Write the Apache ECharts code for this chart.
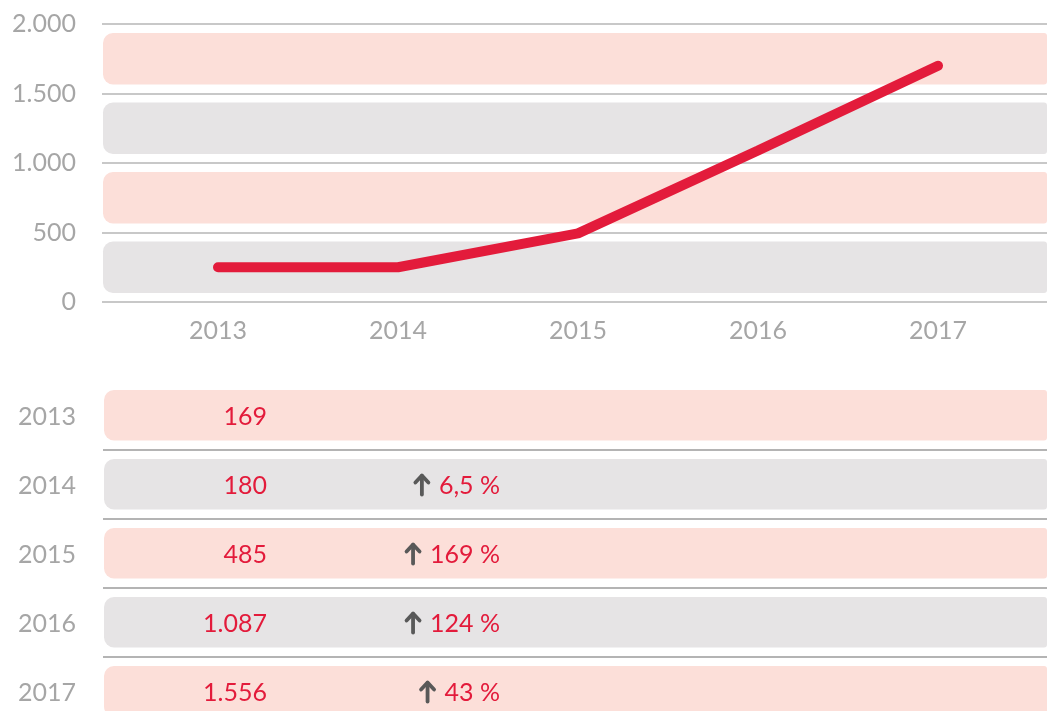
<!DOCTYPE html>
<html>
<head>
<meta charset="utf-8">
<script src="https://cdn.jsdelivr.net/npm/echarts@6/dist/echarts.min.js"></script>
<style>
  html, body { margin: 0; padding: 0; background: #fff; }
  #chart { width: 1047px; height: 711px; }
</style>
</head>
<body>
<div id="chart"></div>
<script>
// data
const years = ["2013", "2014", "2015", "2016", "2017"];
const lineValues = [250, 250, 494, 1090, 1700];
const bandStarts = [0, 500, 1000, 1500];
const tableValues = [169, 180, 485, 1087, 1556];
const growth = ["", "6,5 %", "169 %", "124 %", "43 %"];

const RED = "#E31B3B";
const PINK = "#FCDFD9";
const GREY = "#E6E4E5";
const LABEL = "#A6A6A6";
const FONT = "Lato";
const ROW = 69; // table row pitch

function fmt(n) {
  return String(n).replace(/\B(?=(\d{3})+(?!\d))/g, ".");
}

const measureCtx = document.createElement("canvas").getContext("2d");
function textWidth(str) {
  measureCtx.font = "25px " + FONT;
  return measureCtx.measureText(str).width;
}

// rounded band behind each 500 step, alternating grey / pink
function renderBand(params, api) {
  const cs = params.coordSys;
  const start = api.value(0);
  const yTop = api.coord([0, start + 500])[1] + 9;
  const yBot = api.coord([0, start])[1] - 9;
  return {
    type: "rect",
    shape: { x: cs.x + 1, y: yTop, width: cs.width - 1, height: yBot - yTop, r: [10, 3, 3, 10] },
    style: { fill: params.dataIndex % 2 ? PINK : GREY }
  };
}

// one row of the table below the chart
function renderRow(params, api) {
  const cs = params.coordSys;
  const i = params.dataIndex;
  const cy = api.coord([0, api.value(1)])[1];
  const top = cy - ROW / 2;
  const children = [
    {
      type: "rect",
      shape: { x: cs.x, y: top + 9, width: cs.width, height: ROW - 18.5, r: [10, 3, 3, 10] },
      style: { fill: i % 2 ? GREY : PINK }
    },
    {
      type: "text",
      x: cs.x - 28,
      y: cy + 1,
      style: { text: years[i], align: "right", verticalAlign: "middle", fill: LABEL, font: "25px " + FONT }
    },
    {
      type: "text",
      x: cs.x + 163,
      y: cy + 1,
      style: { text: fmt(tableValues[i]), align: "right", verticalAlign: "middle", fill: RED, font: "25px " + FONT }
    }
  ];
  if (i > 0) {
    children.push({
      type: "line",
      shape: { x1: cs.x - 1, y1: top, x2: cs.x + cs.width, y2: top },
      style: { stroke: "#B4B4B4", lineWidth: 2 }
    });
  }
  if (growth[i]) {
    const right = cs.x + 396;
    const ax = right - textWidth(growth[i]) - 17;
    children.push(
      {
        type: "text",
        x: right,
        y: cy + 1,
        style: { text: growth[i], align: "right", verticalAlign: "middle", fill: RED, font: "25px " + FONT }
      },
      {
        type: "polyline",
        shape: { points: [[ax - 6.5, cy - 2], [ax, cy - 9], [ax + 6.5, cy - 2]] },
        style: { stroke: "#595959", lineWidth: 3.8, lineCap: "round", lineJoin: "round", fill: null }
      },
      {
        type: "line",
        shape: { x1: ax, y1: cy - 8.5, x2: ax, y2: cy + 10 },
        style: { stroke: "#595959", lineWidth: 3.8, lineCap: "round" }
      }
    );
  }
  return { type: "group", children: children };
}

const chart = echarts.init(document.getElementById("chart"));

const option = {
  animation: false,
  grid: [
    { left: 102, right: 0, top: 24, height: 278 },
    { left: 128, right: 19, top: 24, height: 278 },
    { left: 104, right: 0, top: 381, bottom: 0 }
  ],
  xAxis: [
    { gridIndex: 0, type: "value", min: 0, max: 1, show: false },
    {
      gridIndex: 1,
      type: "category",
      data: years,
      axisLine: { show: false },
      axisTick: { show: false },
      axisLabel: { color: LABEL, fontFamily: FONT, fontSize: 25, margin: 16 }
    },
    { gridIndex: 2, type: "value", min: 0, max: 1, show: false }
  ],
  yAxis: [
    {
      gridIndex: 0,
      type: "value",
      min: 0,
      max: 2000,
      interval: 500,
      axisLine: { show: false },
      axisTick: { show: false },
      axisLabel: { color: LABEL, fontFamily: FONT, fontSize: 25, margin: 26, padding: [4, 0, 0, 0], formatter: fmt },
      splitLine: { lineStyle: { color: "#C8C8C8", width: 2 } }
    },
    { gridIndex: 1, type: "value", min: 0, max: 2000, show: false },
    // row index axis: 330px tall, one row every 69px
    { gridIndex: 2, type: "value", inverse: true, min: -0.5, max: -0.5 + 330 / ROW, show: false }
  ],
  series: [
    {
      type: "custom",
      xAxisIndex: 0,
      yAxisIndex: 0,
      renderItem: renderBand,
      data: bandStarts.map(s => [s]),
      encode: { y: 0 },
      z: 1
    },
    {
      type: "line",
      xAxisIndex: 1,
      yAxisIndex: 1,
      data: lineValues,
      symbol: "none",
      lineStyle: { color: RED, width: 10, cap: "round" },
      z: 5
    },
    {
      type: "custom",
      xAxisIndex: 2,
      yAxisIndex: 2,
      renderItem: renderRow,
      data: years.map((y, i) => [0, i]),
      encode: { x: 0, y: 1 },
      clip: false
    }
  ]
};

chart.setOption(option);
</script>
</body>
</html>
